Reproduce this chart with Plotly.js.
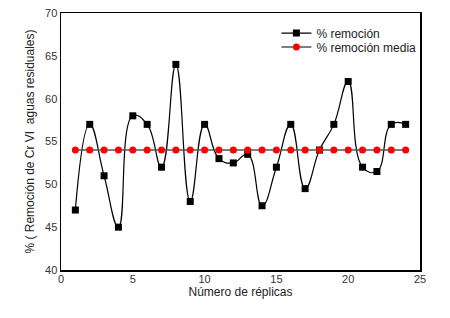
<!DOCTYPE html>
<html><head><meta charset="utf-8">
<script src="https://cdn.plot.ly/plotly-3.0.1.min.js"></script>
<style>html,body{margin:0;padding:0;background:#fff}</style>
</head><body>
<div id="chart" style="width:450px;height:318px"></div>
<script>
const replicas = [1,2,3,4,5,6,7,8,9,10,11,12,13,14,15,16,17,18,19,20,21,22,23,24];
const remocion = [47,57,51,45,58,57,52,64,48,57,53,52.5,53.5,47.5,52,57,49.5,54,57,62,52,51.5,57,57];
const remocionMedia = [54,54,54,54,54,54,54,54,54,54,54,54,54,54,54,54,54,54,54,54,54,54,54,54];
const seriesNames = ['% remoción', '% remoción media'];
const xTicks = [0,5,10,15,20,25];
const yTicks = [40,45,50,55,60,65,70];

const traces = [
  {x: replicas, y: remocion, name: seriesNames[0], type: 'scatter', mode: 'lines+markers',
   legend: 'legend',
   line: {color: '#000', width: 1.2, shape: 'spline', smoothing: 1.3},
   marker: {symbol: 'square', size: 7, color: '#000'}},
  {x: replicas, y: remocionMedia, name: seriesNames[1], type: 'scatter', mode: 'lines+markers',
   legend: 'legend2',
   line: {color: '#555', width: 1.5},
   marker: {symbol: 'circle', size: 7, color: '#ff0000'}}
];

const legendCommon = {xanchor: 'left', yanchor: 'middle', bgcolor: 'rgba(0,0,0,0)',
  font: {size: 12, color: '#222'}, itemwidth: 30, borderwidth: 0};

const layout = {
  width: 450, height: 318,
  margin: {l: 61, r: 30, t: 13, b: 48},
  paper_bgcolor: '#fff', plot_bgcolor: '#fff',
  font: {family: 'Liberation Sans, Arial, sans-serif', color: '#000', size: 11},
  showlegend: true,
  legend: Object.assign({x: 0.6, y: 0.922}, legendCommon),
  legend2: Object.assign({x: 0.6, y: 0.868}, legendCommon),
  xaxis: {range: [0, 25], tickvals: xTicks, showgrid: false, zeroline: false,
          showline: true, mirror: true, linecolor: '#000', linewidth: 1.5,
          ticks: '', ticklabelstandoff: -2,
          tickfont: {size: 11, color: '#333'},
          title: {text: 'Número de réplicas', font: {size: 12, color: '#222'}, standoff: 0}},
  yaxis: {range: [40, 70], tickvals: yTicks, showgrid: false, zeroline: false,
          showline: true, mirror: true, linecolor: '#000', linewidth: 1.5,
          ticks: '', ticklabelstandoff: 0,
          tickfont: {size: 11, color: '#333'},
          title: {text: '% ( Remoción de Cr VI  aguas residuales)', font: {size: 12, color: '#222'}, standoff: 8}}
};

Plotly.newPlot('chart', traces, layout, {displayModeBar: false, staticPlot: true});
</script>
</body></html>
